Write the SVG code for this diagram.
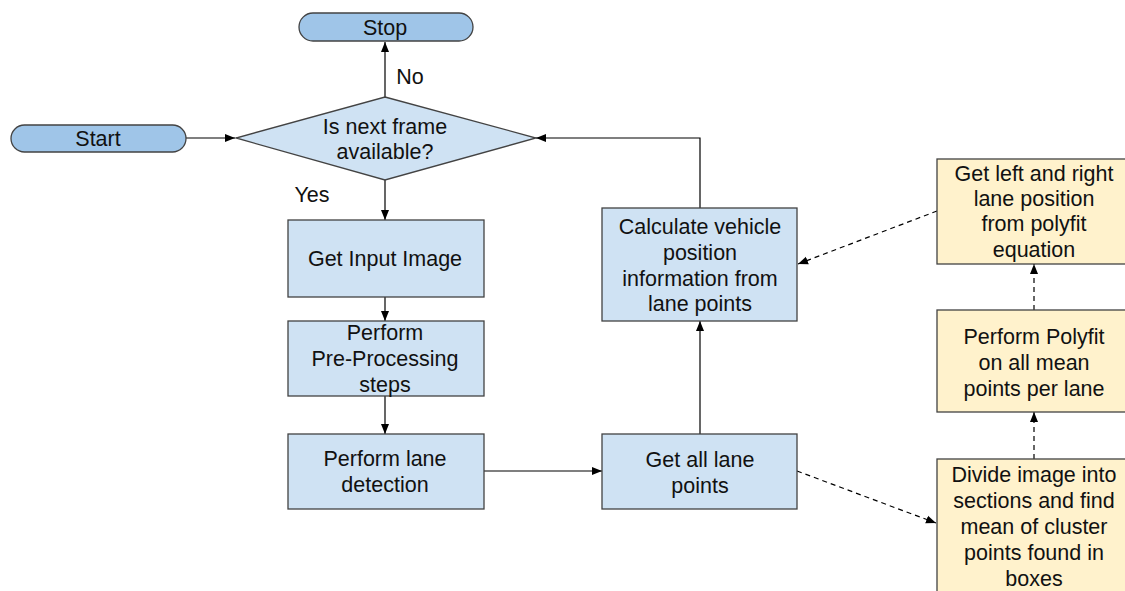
<svg xmlns="http://www.w3.org/2000/svg" width="1125" height="591" viewBox="0 0 1125 591">
<defs>
<style>
.t{font-family:"Liberation Sans",Arial,sans-serif;font-size:21.5px;fill:#111;text-anchor:middle}
.term{fill:#9fc5e8;stroke:#434343;stroke-width:1.3}
.box{fill:#cfe2f3;stroke:#434343;stroke-width:1.3}
.yel{fill:#fff2cc;stroke:#434343;stroke-width:1.3}
.ln{fill:none;stroke:#000;stroke-width:1.2}
.dash{fill:none;stroke:#000;stroke-width:1.2;stroke-dasharray:5,4}
</style>
<marker id="ah" viewBox="0 0 10 10" refX="10" refY="5" markerWidth="10" markerHeight="10" markerUnits="userSpaceOnUse" orient="auto">
<path d="M0,1 L10,5 L0,9 z" fill="#000"/>
</marker>
</defs>
<rect width="1125" height="591" fill="#fff"/>
<g id="connectors">
<path class="ln" d="M385,97 V42" marker-end="url(#ah)"/>
<path class="ln" d="M186,138 H235" marker-end="url(#ah)"/>
<path class="ln" d="M385,180 V220" marker-end="url(#ah)"/>
<path class="ln" d="M385,297 V321" marker-end="url(#ah)"/>
<path class="ln" d="M385,396 V434" marker-end="url(#ah)"/>
<path class="ln" d="M483,471 H602" marker-end="url(#ah)"/>
<path class="ln" d="M700,434 V321" marker-end="url(#ah)"/>
<path class="ln" d="M700,208 V138 H536" marker-end="url(#ah)"/>
<path class="dash" d="M937,211 L798,264" marker-end="url(#ah)"/>
<path class="dash" d="M1034,310 V264" marker-end="url(#ah)"/>
<path class="dash" d="M1034,459 V412" marker-end="url(#ah)"/>
<path class="dash" d="M797,471 L936,523" marker-end="url(#ah)"/>
<text class="t" x="410" y="84">No</text>
<text class="t" x="312" y="202">Yes</text>
</g>
<g id="stop"><rect class="term" x="299" y="13" width="174" height="28" rx="14"/><text class="t" x="385" y="35">Stop</text></g>
<g id="start"><rect class="term" x="11" y="125" width="175" height="27" rx="13.5"/><text class="t" x="98" y="146">Start</text></g>
<g id="decision"><path class="box" d="M385,97 L536,138 L385,180 L236,138 Z"/><text class="t" x="385" y="134">Is next frame</text><text class="t" x="385" y="159">available?</text></g>
<g id="getinput"><rect class="box" x="288" y="220" width="196" height="77"/><text class="t" x="385" y="266">Get Input Image</text></g>
<g id="preproc"><rect class="box" x="288" y="321" width="196" height="75"/><text class="t" x="385" y="340">Perform</text><text class="t" x="385" y="366">Pre-Processing</text><text class="t" x="385" y="392">steps</text></g>
<g id="lanedet"><rect class="box" x="288" y="434" width="196" height="75"/><text class="t" x="385" y="466">Perform lane</text><text class="t" x="385" y="492">detection</text></g>
<g id="lanepts"><rect class="box" x="602" y="434" width="195" height="75"/><text class="t" x="700" y="467">Get all lane</text><text class="t" x="700" y="493">points</text></g>
<g id="calc"><rect class="box" x="602" y="208" width="195" height="113"/><text class="t" x="700" y="234">Calculate vehicle</text><text class="t" x="700" y="260">position</text><text class="t" x="700" y="286">information from</text><text class="t" x="700" y="311">lane points</text></g>
<g id="leftright"><rect class="yel" x="937" y="159" width="190" height="105"/><text class="t" x="1034" y="181">Get left and right</text><text class="t" x="1034" y="206">lane position</text><text class="t" x="1034" y="231">from polyfit</text><text class="t" x="1034" y="257">equation</text></g>
<g id="polyfit"><rect class="yel" x="937" y="310" width="190" height="102"/><text class="t" x="1034" y="344">Perform Polyfit</text><text class="t" x="1034" y="370">on all mean</text><text class="t" x="1034" y="396">points per lane</text></g>
<g id="divide"><rect class="yel" x="937" y="459" width="190" height="140"/><text class="t" x="1034" y="482">Divide image into</text><text class="t" x="1034" y="508">sections and find</text><text class="t" x="1034" y="534">mean of cluster</text><text class="t" x="1034" y="560">points found in</text><text class="t" x="1034" y="586">boxes</text></g>
</svg>
